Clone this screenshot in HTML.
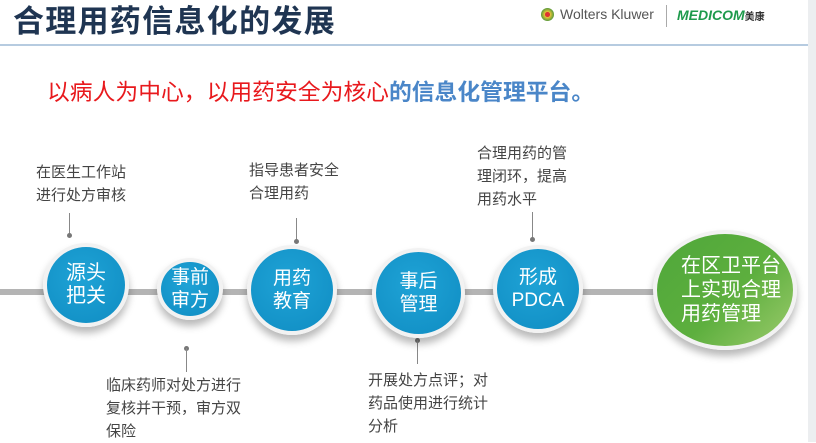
<!DOCTYPE html>
<html><head><meta charset="utf-8"><style>
body{margin:0;width:816px;height:442px;overflow:hidden;background:#fff;font-family:"Liberation Sans","Noto Sans CJK SC",sans-serif;position:relative}
.a{position:absolute}
.t{font-size:15px;color:#444;line-height:23px;white-space:nowrap}
.c{position:absolute;border-radius:50%;border:4px solid #f2f2f2;box-shadow:0 6px 8px rgba(0,0,0,.28);background:radial-gradient(circle at 45% 40%,#1fa3d6,#0f8cc2);color:#fff;display:flex;align-items:center;justify-content:center;text-align:center;font-size:19px;line-height:23px}
.v{position:absolute;width:1px;background:#888}
.d{position:absolute;width:5px;height:5px;border-radius:50%;background:#777}
</style></head><body>
<div class="a" style="left:13px;top:3px;font-size:31px;font-weight:bold;color:#1f3552;letter-spacing:1.3px;line-height:38px;white-space:nowrap">合理用药信息化的发展</div>
<div class="a" style="left:0;top:44px;width:808px;height:2px;background:#b6cbe0"></div>
<div class="a" style="left:808px;top:0;width:8px;height:442px;background:#eceef0"></div>
<div class="a" style="left:541px;top:8px;width:13px;height:13px;border-radius:50%;background:radial-gradient(circle,#d33 25%,#e8c53a 30%,#5a9a3a 70%)"></div>
<div class="a" style="left:560px;top:6px;font-size:14px;color:#555">Wolters Kluwer</div>
<div class="a" style="left:666px;top:5px;width:1px;height:22px;background:#aaa"></div>
<div class="a" style="left:677px;top:7px;font-size:14px;font-weight:bold;font-style:italic;color:#1e9a4c">MEDICOM<span style="font-size:10px;font-style:normal;color:#333">美康</span></div>
<div class="a" style="left:47px;top:74px;font-size:22.8px;color:#e8191d;white-space:nowrap">以病人为中心，以用药安全为核心<b style="color:#4a86c8">的信息化管理平台。</b></div>

<div class="a" style="left:0;top:289px;width:680px;height:6px;background:#b4b4b4"></div>

<div class="t a" style="left:36px;top:161px">在医生工作站<br>进行处方审核</div>
<div class="t a" style="left:249px;top:159px">指导患者安全<br>合理用药</div>
<div class="t a" style="left:477px;top:142px">合理用药的管<br>理闭环，提高<br>用药水平</div>
<div class="t a" style="left:106px;top:374px">临床药师对处方进行<br>复核并干预，审方双<br>保险</div>
<div class="t a" style="left:368px;top:369px">开展处方点评；对<br>药品使用进行统计<br>分析</div>

<div class="v" style="left:69px;top:213px;height:22px"></div><div class="d" style="left:67px;top:233px"></div>
<div class="v" style="left:296px;top:218px;height:23px"></div><div class="d" style="left:294px;top:239px"></div>
<div class="v" style="left:532px;top:212px;height:27px"></div><div class="d" style="left:530px;top:237px"></div>
<div class="d" style="left:184px;top:346px"></div><div class="v" style="left:186px;top:348px;height:24px"></div>
<div class="d" style="left:415px;top:338px"></div><div class="v" style="left:417px;top:340px;height:24px"></div>

<div class="c" style="left:43px;top:243px;width:78px;height:76px;font-size:20px">源头<br>把关</div>
<div class="c" style="left:157px;top:258px;width:58px;height:54px">事前<br>审方</div>
<div class="c" style="left:247px;top:245px;width:82px;height:82px">用药<br>教育</div>
<div class="c" style="left:372px;top:248px;width:85px;height:82px">事后<br>管理</div>
<div class="c" style="left:493px;top:245px;width:82px;height:80px">形成<br>PDCA</div>
<div class="c" style="left:653px;top:230px;height:112px;background:linear-gradient(135deg,#4fa73a,#5daf3e 55%,#9ccb6c);font-size:20px;line-height:24px;justify-content:flex-start;padding-left:24px;box-sizing:content-box;width:112px;text-align:left">在区卫平台<br>上实现合理<br>用药管理</div>
</body></html>
